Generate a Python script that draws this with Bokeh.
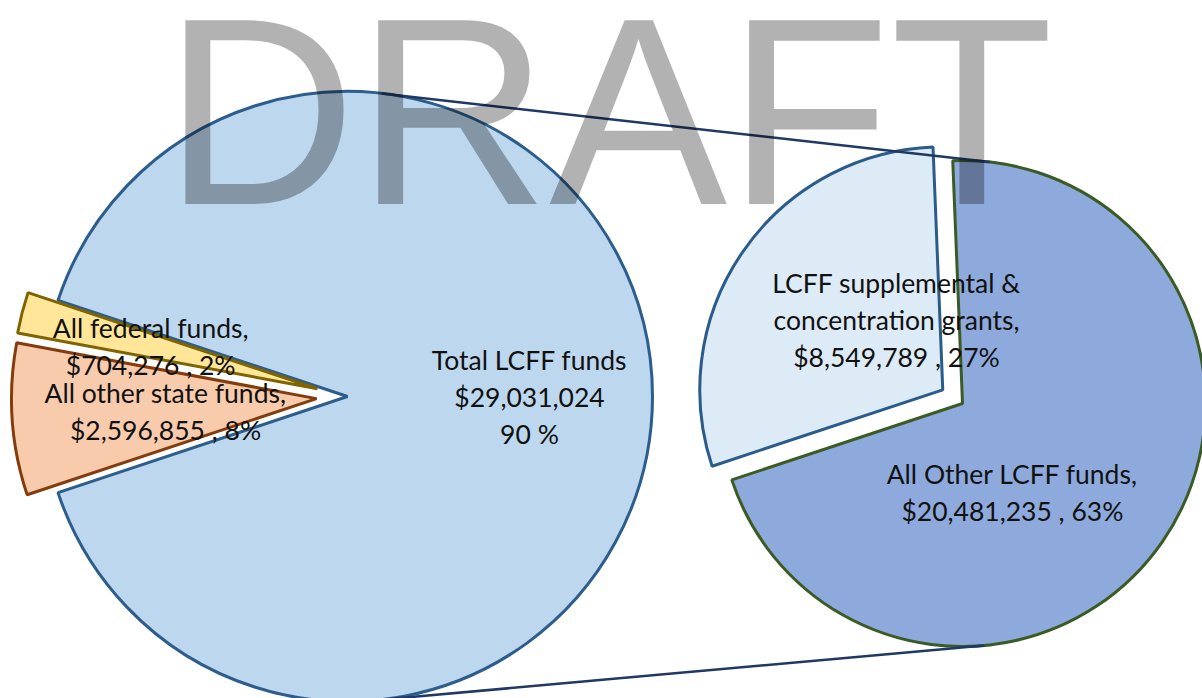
import numpy as np
from bokeh.plotting import figure
from bokeh.models import Range1d
from bokeh.core.properties import value
from bokeh.embed import file_html
from bokeh.resources import INLINE

# ---------------- data ----------------
left_names = ["Total LCFF funds", "All federal funds", "All other state funds"]
left_values = [29031024, 704276, 2596855]
left_pct = [90, 2, 8]
right_names = ["LCFF supplemental & concentration grants", "All Other LCFF funds"]
right_values = [8549789, 20481235]
right_pct = [27, 63]

# ---------------- layout / style ----------------
W, H = 1202, 698
LC = (347.0, 302.0)   # left pie centre (data units = px, y up)
LR = 305.0
RC = (962.0, 295.0)   # right pie centre
RR = 243.0
LEFT_EXPLODE = [0.0, 31.0, 31.0]
RIGHT_START = 92.3
RIGHT_EXPLODE = [24.0, 0.0]

left_fill = ["#BDD7EE", "#FFE699", "#F8CBAD"]
left_line = ["#2C5D8C", "#7F6400", "#843C0C"]
right_fill = ["#DDEBF7", "#8EA9DB"]
right_line = ["#2A5B8A", "#3B5B25"]
connector_color = "#1F3864"
FONT = "Lato"
FSIZE = "26.5px"
LINE_GAP = 37.0

p = figure(width=W, height=H, output_backend="svg", toolbar_location=None,
           x_range=Range1d(0, W), y_range=Range1d(0, H),
           x_axis_location=None, y_axis_location=None, min_border=0)
p.grid.visible = False
p.outline_line_color = None
p.background_fill_color = "white"
p.border_fill_color = "white"


def polar(c, d, ang):
    a = np.radians(ang)
    return c[0] + d * np.cos(a), c[1] + d * np.sin(a)


total = sum(left_values)
left_spans = [v / total * 360.0 for v in left_values]
starts = [-left_spans[0] / 2.0]
for s in left_spans[:-1]:
    starts.append(starts[-1] + s)
left_geo = []
for i, (st, sp) in enumerate(zip(starts, left_spans)):
    mid = st + sp / 2.0
    cx, cy = polar(LC, LEFT_EXPLODE[i], mid)
    left_geo.append((cx, cy, st, st + sp, mid))
    p.wedge(x=cx, y=cy, radius=LR, start_angle=np.radians(st), end_angle=np.radians(st + sp),
            fill_color=left_fill[i], line_color=left_line[i], line_width=3)

rtotal = sum(right_values)
right_spans = [v / rtotal * 360.0 for v in right_values]
rst = [RIGHT_START]
for s in right_spans[:-1]:
    rst.append(rst[-1] + s)
right_geo = []
for i, (st, sp) in enumerate(zip(rst, right_spans)):
    mid = st + sp / 2.0
    cx, cy = polar(RC, RIGHT_EXPLODE[i], mid)
    right_geo.append((cx, cy, st, st + sp, mid))
for i in [1, 0]:
    cx, cy, st, en, mid = right_geo[i]
    p.wedge(x=cx, y=cy, radius=RR, start_angle=np.radians(st), end_angle=np.radians(en),
            fill_color=right_fill[i], line_color=right_line[i], line_width=3)

# connectors: external common tangents of the two pies
dx, dy = RC[0] - LC[0], RC[1] - LC[1]
d = np.hypot(dx, dy)
base = np.arctan2(dy, dx)
phi = np.arccos((LR - RR) / d)
for sgn in (1, -1):
    a = base + sgn * phi
    x0, y0 = LC[0] + LR * np.cos(a), LC[1] + LR * np.sin(a)
    x1, y1 = RC[0] + RR * np.cos(a), RC[1] + RR * np.sin(a)
    p.line([x0, x1], [y0, y1], line_color=connector_color, line_width=2.5)


# labels
def money(v):
    return "${:,}".format(v)


left_lines = [
    [left_names[0], money(left_values[0]), "%d %%" % left_pct[0]],
    [left_names[1] + ",", "%s , %d%%" % (money(left_values[1]), left_pct[1])],
    [left_names[2] + ",", "%s , %d%%" % (money(left_values[2]), left_pct[2])],
]
rn0 = right_names[0].split(" ")
right_lines = [
    [" ".join(rn0[:3]), " ".join(rn0[3:]) + ",",
     "%s , %d%%" % (money(right_values[0]), right_pct[0])],
    [right_names[1] + ",", "%s , %d%%" % (money(right_values[1]), right_pct[1])],
]
left_lab_pos = [(182, 0.0), (172, 165.9), (151.6, 184.9)]
right_lab_pos = [(84, 123.4), (102, -60.7)]


def put_label(center, pos, lines):
    lx, ly = polar(center, pos[0], pos[1])
    n = len(lines)
    xs = [lx] * n
    ys = [ly + (n - 1) / 2.0 * LINE_GAP - k * LINE_GAP for k in range(n)]
    p.text(x=xs, y=ys, text=lines, text_font=value(FONT), text_font_size=FSIZE,
           text_align="center", text_baseline="middle", text_color="#111111")


for i in range(3):
    put_label(left_geo[i][:2], left_lab_pos[i], left_lines[i])
for i in range(2):
    put_label(right_geo[i][:2], right_lab_pos[i], right_lines[i])

# watermark
p.text(x=[163], y=[587], text=["DRAFT"], text_font=value("Liberation Sans"),
       text_font_size="267px", text_align="left", text_baseline="alphabetic",
       text_color="black", text_alpha=0.3)

open("out.html", "w").write(file_html(p, INLINE))
